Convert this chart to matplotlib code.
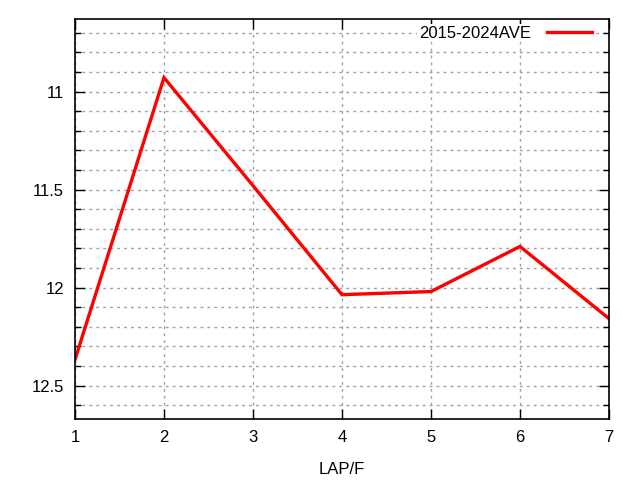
import numpy as np
import matplotlib
matplotlib.use('Agg')
import matplotlib.pyplot as plt
from matplotlib.ticker import MultipleLocator

laps = [1, 2, 3, 4, 5, 6, 7]
ave = [12.367, 10.929, 11.48, 12.036, 12.02, 11.79, 12.158]
series_name = '2015-2024AVE'

plt.rcParams['font.family'] = ['Liberation Sans', 'DejaVu Sans']
plt.rcParams['font.size'] = 12

fig = plt.figure(figsize=(6.4, 4.8), dpi=100)
ax = fig.add_axes([75 / 640, 61 / 480, 534 / 640, 400 / 480])

ax.plot(laps, ave, color='red', lw=2.4, label=series_name, solid_joinstyle='miter')

ax.set_xlim(1, 7)
ax.set_ylim(12.67, 10.63)
ax.xaxis.set_major_locator(MultipleLocator(1))
ax.yaxis.set_major_locator(MultipleLocator(0.5))
ax.yaxis.set_minor_locator(MultipleLocator(0.1))
ax.yaxis.set_major_formatter(plt.FuncFormatter(lambda v, p: f'{v:g}'))

ax.grid(True, which='major', color='#a0a0a0', ls=(0, (2, 3)), lw=1)
ax.grid(True, which='minor', axis='y', color='#a0a0a0', ls=(0, (2, 3)), lw=1)
ax.tick_params(which='both', direction='in', top=True, right=True, width=1)
ax.tick_params(which='major', length=7, pad=8)
ax.tick_params(which='minor', length=4)
for s in ax.spines.values():
    s.set_linewidth(1.2)

ax.set_xlabel('LAP/F', labelpad=12)

leg = ax.legend(loc='center right', frameon=True, markerfirst=False, fancybox=False,
                handlelength=2.7, handletextpad=1.0, borderaxespad=0.0,
                borderpad=0.1, bbox_to_anchor=(0.972, 1 - 14 / 400))
leg.get_frame().set_facecolor('white')
leg.get_frame().set_edgecolor('none')
leg.get_frame().set_alpha(1.0)

fig.savefig('out.png', dpi=100)
